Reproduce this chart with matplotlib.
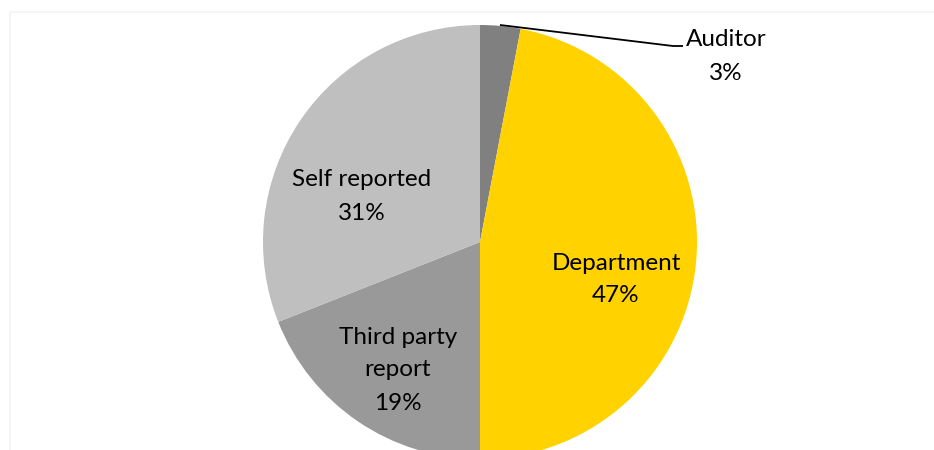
import matplotlib.pyplot as plt
from matplotlib.patches import Rectangle

# slice data, clockwise from 12 o'clock
labels = ["Auditor", "Department", "Third party\nreport", "Self reported"]
shares = [3, 47, 19, 31]
colors = ["#808080", "#FFD200", "#999999", "#BFBFBF"]

plt.rcParams['font.family'] = ['Lato', 'DejaVu Sans']

fig = plt.figure(figsize=(9.34, 4.5), dpi=100)
ax = fig.add_axes([0, 0, 1, 1])

# faint chart frame
fig.patches.append(Rectangle((10 / 934, -0.1), 1.0, (450 - 12) / 450 + 0.1,
                             transform=fig.transFigure, fill=False,
                             edgecolor="#F3F3F3", linewidth=1.2))

cx, cy, r = 480, 208, 217
wedges, _ = ax.pie(shares, colors=colors, startangle=90, counterclock=False,
                   center=(cx, cy), radius=r, frame=True,
                   wedgeprops=dict(linewidth=0))
ax.set_xlim(0, 934)
ax.set_ylim(0, 450)
ax.set_aspect('equal')
ax.axis('off')

# label positions (pixel coords from top)
pos = [(726, 40), (616, 263), (398, 337), (362, 180)]
for lab, s, (x, y) in zip(labels, shares, pos):
    lines = lab.split("\n") + [f"{s}%"]
    for i, t in enumerate(lines):
        ax.text(x, 450 - (y + i * 33), t, ha='center', va='center',
                fontsize=17.5, color="#000000")

# leader line for Auditor
ax.plot([500, 673, 683], [450 - 25, 450 - 46, 450 - 46], color="black",
        linewidth=1.3, solid_capstyle='butt')

fig.savefig("out.png", dpi=100)
